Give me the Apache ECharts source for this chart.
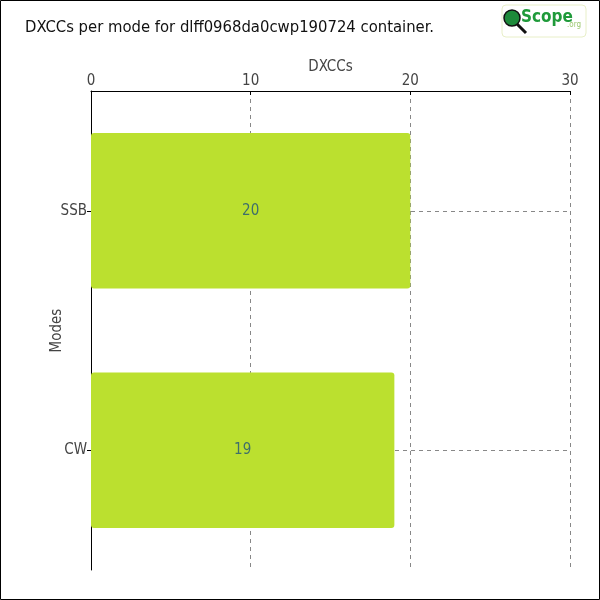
<!DOCTYPE html>
<html><head><meta charset="utf-8">
<script src="https://cdn.jsdelivr.net/npm/echarts@6/dist/echarts.min.js"></script>
<style>html,body{margin:0;padding:0;background:#fff}#c{width:600px;height:600px}</style>
</head><body><div id="c"></div>
<script>
const titleText = 'DXCCs per mode for dlff0968da0cwp190724 container.';
const modes = ['SSB', 'CW'];
const dxccs = [20, 19];
const xTicks = [0, 10, 20, 30];

const font = "'DejaVu Sans Condensed', sans-serif";
const chart = echarts.init(document.getElementById('c'), null, {renderer: 'canvas'});
chart.setOption({
  animation: false,
  backgroundColor: '#fff',
  title: {
    text: titleText, left: 20, top: 14,
    textStyle: {fontFamily: font, fontSize: 16.5, fontWeight: 'normal', color: '#111'}
  },
  grid: {left: 91, right: 30, top: 91, bottom: 30},
  xAxis: {
    type: 'value', position: 'top', min: xTicks[0], max: xTicks[xTicks.length - 1], interval: 10,
    name: 'DXCCs', nameLocation: 'middle', nameGap: 16, nameMoveOverlap: false,
    nameTextStyle: {fontFamily: font, fontSize: 15, color: '#444'},
    axisLine: {show: true, lineStyle: {color: '#000', width: 1}},
    axisTick: {show: true, inside: true, length: 4, lineStyle: {color: '#000'}},
    axisLabel: {fontFamily: font, fontSize: 15, color: '#444', margin: 2},
    splitLine: {show: true, lineStyle: {color: '#888', type: [4, 4], width: 1}}
  },
  yAxis: {
    type: 'category', data: modes, inverse: true,
    name: 'Modes', nameLocation: 'middle', nameGap: 26, nameMoveOverlap: false,
    nameTextStyle: {fontFamily: font, fontSize: 15, color: '#444'},
    axisLine: {show: true, lineStyle: {color: '#000', width: 1}},
    axisTick: {show: true, alignWithLabel: true, length: 4, lineStyle: {color: '#000'}},
    axisLabel: {fontFamily: font, fontSize: 15, color: '#444', margin: 4},
    splitLine: {show: true, alignWithLabel: true, lineStyle: {color: '#888', type: [4, 4], width: 1}}
  },
  series: [{
    type: 'bar', data: dxccs, barWidth: '65%',
    itemStyle: {color: '#bbe02f', borderRadius: 3},
    label: {show: true, position: 'inside', fontFamily: font, fontSize: 15, color: '#3f6f6a'}
  }],
  graphic: [
    {type: 'rect', shape: {x: 0.5, y: 0.5, width: 599, height: 599}, style: {fill: 'none', stroke: '#000', lineWidth: 1}, z: 100},
    {type: 'rect', shape: {x: 502, y: 5, width: 84, height: 32, r: 4}, style: {fill: '#fff', stroke: '#e8efc8', lineWidth: 1}},
    {type: 'line', shape: {x1: 515, y1: 22, x2: 526, y2: 33}, style: {stroke: '#111', lineWidth: 3}},
    {type: 'circle', shape: {cx: 512, cy: 18, r: 8}, style: {fill: '#1d8a3a', stroke: '#111', lineWidth: 1.5}},
    {type: 'text', x: 521, y: 9, style: {text: 'Scope', fontFamily: font, fontSize: 17, fontWeight: 'bold', fill: '#1f9a3a'}},
    {type: 'text', x: 567, y: 21, style: {text: '.org', fontFamily: font, fontSize: 8, fill: '#9cc870'}}
  ]
});
</script></body></html>
